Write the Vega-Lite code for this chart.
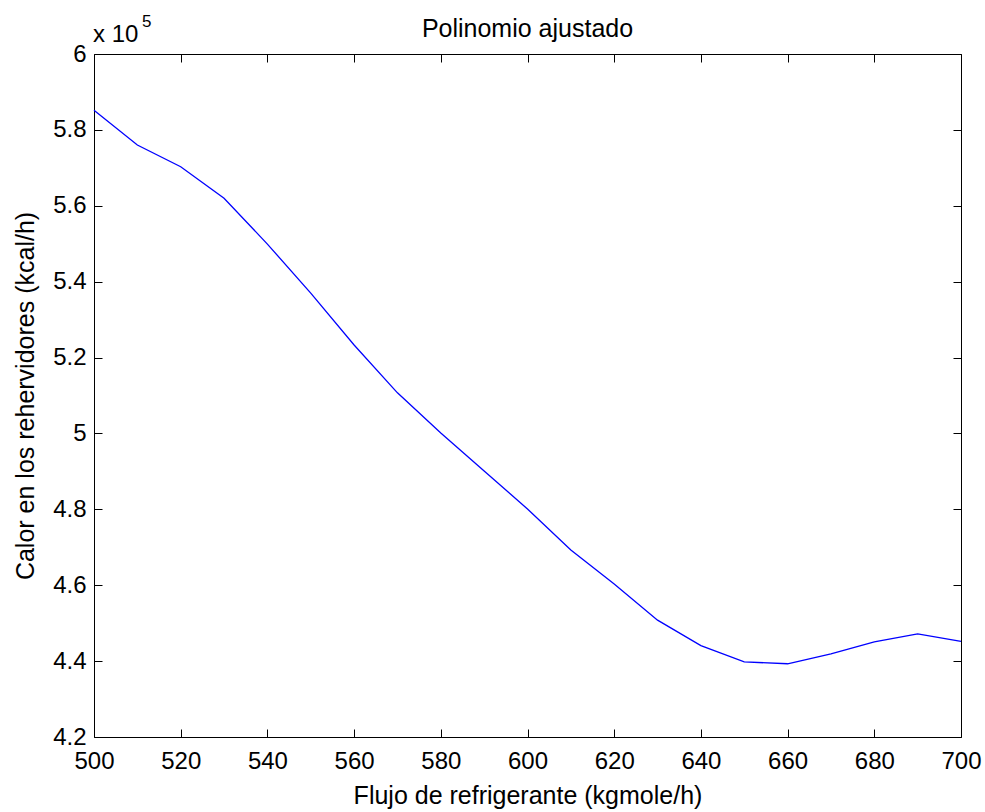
{
  "$schema": "https://vega.github.io/schema/vega-lite/v6.json",
  "width": 867,
  "height": 683,
  "autosize": {"type": "none"},
  "padding": {"left": 94, "top": 54, "right": 24, "bottom": 75},
  "background": "white",
  "config": {
    "font": "Liberation Sans",
    "view": {"stroke": "black", "strokeWidth": 1},
    "axis": {
      "grid": false,
      "domain": false,
      "tickColor": "black",
      "tickWidth": 1,
      "labelColor": "black",
      "labelFont": "Liberation Sans",
      "labelFontSize": 24,
      "titleFont": "Liberation Sans",
      "titleFontSize": 25,
      "titleFontWeight": "normal",
      "titleColor": "black"
    }
  },
  "title": {
    "text": "Polinomio ajustado",
    "font": "Liberation Sans",
    "fontSize": 25,
    "fontWeight": "normal",
    "color": "black",
    "anchor": "middle",
    "offset": -29
  },
  "data": {
    "values": [
      {"flujo": 500, "calor": 585200},
      {"flujo": 510, "calor": 576000},
      {"flujo": 520, "calor": 570300},
      {"flujo": 530, "calor": 562000},
      {"flujo": 540, "calor": 549900},
      {"flujo": 550, "calor": 537000},
      {"flujo": 560, "calor": 523300},
      {"flujo": 570, "calor": 510700},
      {"flujo": 580, "calor": 500100},
      {"flujo": 590, "calor": 490100},
      {"flujo": 600, "calor": 480100},
      {"flujo": 610, "calor": 469300},
      {"flujo": 620, "calor": 460300},
      {"flujo": 630, "calor": 450800},
      {"flujo": 640, "calor": 444100},
      {"flujo": 650, "calor": 439800},
      {"flujo": 660, "calor": 439300},
      {"flujo": 670, "calor": 441900},
      {"flujo": 680, "calor": 445100},
      {"flujo": 690, "calor": 447200},
      {"flujo": 700, "calor": 445200}
    ]
  },
  "resolve": {"axis": {"x": "independent", "y": "independent"}},
  "layer": [
    {
      "mark": {"type": "line", "color": "#0000ff", "strokeWidth": 1.3},
      "encoding": {
        "x": {
          "field": "flujo", "type": "quantitative",
          "scale": {"domain": [500, 700], "nice": false, "zero": false},
          "axis": {
            "orient": "bottom",
            "title": "Flujo de refrigerante (kgmole/h)",
            "values": [500, 520, 540, 560, 580, 600, 620, 640, 660, 680, 700],
            "tickSize": -8,
            "labelPadding": 20,
            "titlePadding": 10,
            "labelFlush": false,
            "labelOverlap": false
          }
        },
        "y": {
          "field": "calor", "type": "quantitative",
          "scale": {"domain": [420000, 600000], "nice": false, "zero": false},
          "axis": {
            "orient": "left",
            "title": "Calor en los rehervidores (kcal/h)",
            "values": [420000, 440000, 460000, 480000, 500000, 520000, 540000, 560000, 580000, 600000],
            "labelExpr": "'' + (datum.value / 100000)",
            "tickSize": -8,
            "labelPadding": 16,
            "titlePadding": 14,
            "labelFlush": false,
            "labelOverlap": false
          }
        }
      }
    },
    {
      "mark": {"type": "line", "strokeOpacity": 0},
      "encoding": {
        "x": {
          "field": "flujo", "type": "quantitative",
          "axis": {
            "orient": "top",
            "title": null,
            "labels": false,
            "values": [500, 520, 540, 560, 580, 600, 620, 640, 660, 680, 700],
            "tickSize": -8
          }
        },
        "y": {
          "field": "calor", "type": "quantitative",
          "axis": {
            "orient": "right",
            "title": null,
            "labels": false,
            "values": [420000, 440000, 460000, 480000, 500000, 520000, 540000, 560000, 580000, 600000],
            "tickSize": -8
          }
        }
      }
    },
    {
      "data": {"values": [{"label": "x 10"}]},
      "mark": {"type": "text", "font": "Liberation Sans", "fontSize": 24, "color": "black", "align": "left", "baseline": "alphabetic", "dx": -1, "dy": -12},
      "encoding": {
        "x": {"datum": 500, "type": "quantitative", "axis": null},
        "y": {"datum": 600000, "type": "quantitative", "axis": null},
        "text": {"field": "label"}
      }
    },
    {
      "data": {"values": [{"label": "5"}]},
      "mark": {"type": "text", "font": "Liberation Sans", "fontSize": 17, "color": "black", "align": "left", "baseline": "alphabetic", "dx": 48, "dy": -27},
      "encoding": {
        "x": {"datum": 500, "type": "quantitative", "axis": null},
        "y": {"datum": 600000, "type": "quantitative", "axis": null},
        "text": {"field": "label"}
      }
    }
  ]
}
